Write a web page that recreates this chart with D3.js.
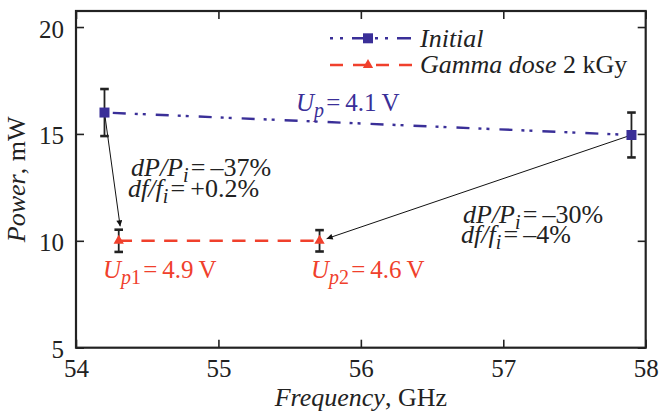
<!DOCTYPE html>
<html><head><meta charset="utf-8">
<script src="https://cdn.jsdelivr.net/npm/d3@7"></script>
</head>
<body style="margin:0;background:#fff"><svg id="c" width="659" height="412"></svg>
<script>
// ---- data ----
const initialFreq = [54.2, 57.9];
const initialPower = [16.0, 14.95];
const initialErr = [1.1, 1.05];
const gammaFreq = [54.3, 55.71];
const gammaPower = [10.0, 10.0];
const gammaErr = [0.52, 0.5];
const xTicks = [54, 55, 56, 57, 58];
const yTicks = [5, 10, 15, 20];
// arrows: [fromFreq, fromPower, toFreq, toPower]
const arrows = [[54.2, 16.0, 54.31, 10.68], [57.9, 14.95, 55.76, 10.1]];

const W = 659, H = 412;
const m = {l: 76, t: 11, r: 13.3, b: 64.3};
const blue = "#3a2f98", red = "#f0402c", ink = "#222";
const FF = '"Liberation Serif"';
const svg = d3.select("#c");
const x = d3.scaleLinear().domain([54, 58]).range([m.l, W - m.r]);
const y = d3.scaleLinear().domain([5, 20.75]).range([H - m.b, m.t]);

const fsTick = 25, fs = 26, fsSub = 20;
const gb = svg.append("g").attr("transform", `translate(0,${H - m.b})`)
  .call(d3.axisBottom(x).tickValues(xTicks).tickSize(-8).tickPadding(11.5).tickFormat(d3.format("d")));
const gl = svg.append("g").attr("transform", `translate(${m.l},0)`)
  .call(d3.axisLeft(y).tickValues(yTicks).tickSize(-8).tickPadding(12).tickFormat(d3.format("d")));
const gt = svg.append("g").attr("transform", `translate(0,${m.t})`)
  .call(d3.axisTop(x).tickValues(xTicks).tickSize(-8).tickFormat(""));
const gr = svg.append("g").attr("transform", `translate(${W - m.r},0)`)
  .call(d3.axisRight(y).tickValues(yTicks).tickSize(-8).tickFormat(""));
[gb, gl, gt, gr].forEach(g => {
  g.select(".domain").remove();
  g.selectAll(".tick line").attr("stroke", ink).attr("stroke-width", 1.6);
  g.selectAll(".tick text").attr("fill", ink).style("font-family", FF).style("font-size", fsTick + "px");
});
gl.selectAll(".tick text").attr("dy", "0.4em");
svg.append("rect").attr("x", m.l).attr("y", m.t).attr("width", W - m.l - m.r).attr("height", H - m.t - m.b)
  .attr("fill", "none").attr("stroke", ink).attr("stroke-width", 2.2);

function txt(sel) { return sel.style("font-family", FF); }

// axis titles
txt(svg.append("text")).attr("x", (m.l + W - m.r) / 2).attr("y", 406).attr("text-anchor", "middle")
  .style("font-size", fs + "px").attr("fill", ink)
  .call(t => { t.append("tspan").attr("font-style", "italic").text("Frequency"); t.append("tspan").text(", GHz"); });
txt(svg.append("text")).attr("transform", `translate(25,${(m.t + H - m.b) / 2}) rotate(-90)`).attr("text-anchor", "middle")
  .style("font-size", fs + "px").attr("fill", ink)
  .call(t => { t.append("tspan").attr("font-style", "italic").text("Power"); t.append("tspan").text(", mW"); });

// arrowhead
svg.append("defs").append("marker").attr("id", "ah").attr("viewBox", "0 0 10 10").attr("refX", 10).attr("refY", 5)
  .attr("markerWidth", 9).attr("markerHeight", 6).attr("markerUnits", "userSpaceOnUse").attr("orient", "auto")
  .append("path").attr("d", "M0,0 L10,5 L0,10 z").attr("fill", "#111");
arrows.forEach(a => {
  svg.append("line").attr("x1", x(a[0])).attr("y1", y(a[1])).attr("x2", x(a[2])).attr("y2", y(a[3]))
    .attr("stroke", "#111").attr("stroke-width", 1).attr("marker-end", "url(#ah)");
});

// lines
const line = d3.line().x(d => x(d[0])).y(d => y(d[1]));
const initPts = initialFreq.map((f, i) => [f, initialPower[i]]);
const gamPts = gammaFreq.map((f, i) => [f, gammaPower[i]]);
svg.append("path").datum(initPts).attr("d", line).attr("fill", "none").attr("stroke", blue).attr("stroke-width", 2.4)
  .attr("stroke-dasharray", "13,9,3,5,3,10").attr("stroke-dashoffset", -8.3);
svg.append("path").datum(gamPts).attr("d", line).attr("fill", "none").attr("stroke", red).attr("stroke-width", 2.4)
  .attr("stroke-dasharray", "13.3,9.4");

// error bars
function errBars(fr, pw, er) {
  fr.forEach((f, i) => {
    const g = svg.append("g").attr("stroke", ink);
    g.append("line").attr("x1", x(f)).attr("x2", x(f)).attr("y1", y(pw[i] - er[i])).attr("y2", y(pw[i] + er[i])).attr("stroke-width", 1.8);
    [pw[i] - er[i], pw[i] + er[i]].forEach(v => g.append("line").attr("x1", x(f) - 4.3).attr("x2", x(f) + 4.3)
      .attr("y1", y(v)).attr("y2", y(v)).attr("stroke-width", 2.6));
  });
}
errBars(initialFreq, initialPower, initialErr);
errBars(gammaFreq, gammaPower, gammaErr);

// markers
const sq = d3.symbol().type(d3.symbolSquare).size(100);
const tri = d3.symbol().type(d3.symbolTriangle).size(46);
svg.selectAll(".sq").data(initPts).join("path").attr("d", sq)
  .attr("transform", d => `translate(${x(d[0])},${y(d[1])})`).attr("fill", blue);
svg.selectAll(".tri").data(gamPts).join("path").attr("d", tri)
  .attr("transform", d => `translate(${x(d[0])},${y(d[1])})`).attr("fill", red);

// legend
const lg = svg.append("g");
lg.append("line").attr("x1", 330).attr("x2", 411).attr("y1", 38.3).attr("y2", 38.3).attr("stroke", blue).attr("stroke-width", 2.4).attr("stroke-dasharray", "3,7,3,9,14,9");
lg.append("path").attr("d", sq).attr("transform", "translate(368,38.3)").attr("fill", blue);
txt(lg.append("text")).attr("x", 420).attr("y", 47).style("font-size", fs + "px").attr("font-style", "italic").attr("fill", ink).text("Initial");
lg.append("line").attr("x1", 330).attr("x2", 412).attr("y1", 65).attr("y2", 65).attr("stroke", red).attr("stroke-width", 2.4).attr("stroke-dasharray", "13,10");
lg.append("path").attr("d", tri).attr("transform", "translate(368,65)").attr("fill", red);
txt(lg.append("text")).attr("x", 420).attr("y", 73).style("font-size", fs + "px").attr("fill", ink)
  .call(t => { t.append("tspan").attr("font-style", "italic").text("Gamma dose"); t.append("tspan").text(" 2 kGy"); });

// annotations
function label(xp, yp, color, size, parts) {
  const t = txt(svg.append("text")).attr("x", xp).attr("y", yp).style("font-size", size + "px").attr("fill", color);
  parts(t);
  return t;
}
function uLabel(xp, yp, color, idx, val) {
  label(xp, yp, color, 25, t => {
    t.append("tspan").attr("font-style", "italic").text("U");
    t.append("tspan").attr("font-style", "italic").style("font-size", fsSub + "px").attr("dy", 6).text("p");
    if (idx) t.append("tspan").style("font-size", fsSub + "px").text(idx);
    t.append("tspan").attr("dy", -6).text("\u200a=\u2009" + val);
  });
}
uLabel(296, 111, blue, "", "4.1\u2009V");
uLabel(103, 278, red, "1", "4.9\u2009V");
uLabel(311, 278, red, "2", "4.6\u2009V");
function ratio(xp, yp, num, den, val) {
  label(xp, yp, ink, fs, t => {
    t.append("tspan").attr("font-style", "italic").text(num + "/" + den);
    t.append("tspan").attr("font-style", "italic").style("font-size", fsSub + "px").attr("dy", 6).text("i");
    t.append("tspan").attr("dy", -6).text("\u200a=\u2009" + val);
  });
}
ratio(131, 176, "dP", "P", "\u201337%");
ratio(128, 197, "df", "f", "+0.2%");
ratio(463, 223, "dP", "P", "\u201330%");
ratio(461, 243, "df", "f", "\u20134%");
</script></body></html>
